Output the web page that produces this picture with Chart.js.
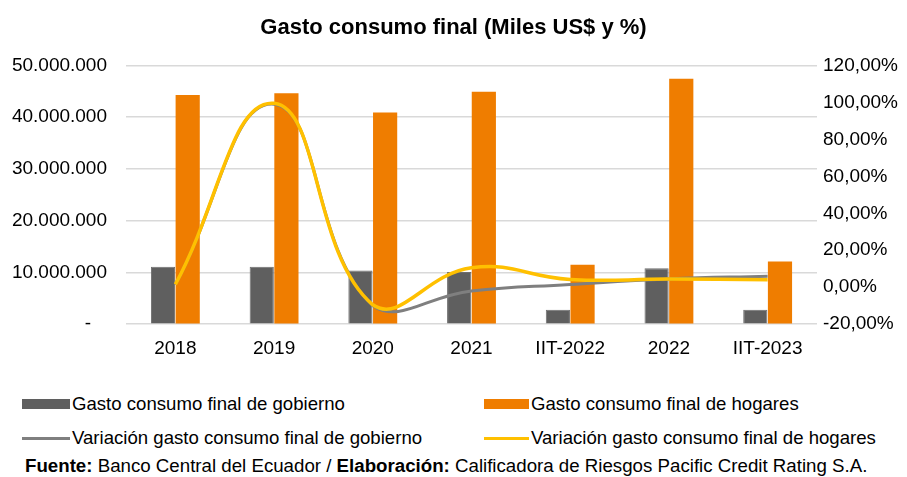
<!DOCTYPE html>
<html>
<head>
<meta charset="utf-8">
<script src="https://cdn.jsdelivr.net/npm/chart.js@4.4.1/dist/chart.umd.min.js"></script>
<style>
  body { margin: 0; background: #fff; font-family: "Liberation Sans", Arial, sans-serif; }
  #wrap { position: relative; width: 907px; height: 477px; overflow: hidden; }
  #chartBox { position: absolute; left: 0; top: 0; width: 907px; height: 367px; }
  .leg { position: absolute; font-size: 18.6px; color: #000; white-space: nowrap; line-height: 20px; }
  .sw { position: absolute; }
  #footer { position: absolute; left: 25px; top: 455px; font-size: 18.7px; line-height: 21px; color: #000; white-space: nowrap; }
</style>
</head>
<body>
<div id="wrap">
  <div id="chartBox"><canvas id="gastoChart"></canvas></div>
  <div id="legend"></div>
  <div id="footer"><b>Fuente:</b> Banco Central del Ecuador / <b>Elaboración:</b> Calificadora de Riesgos Pacific Credit Rating S.A.</div>
</div>
<script>
const categories = ['2018', '2019', '2020', '2021', 'IIT-2022', '2022', 'IIT-2023'];
const gobierno = [11090000, 11100000, 10390000, 10100000, 2800000, 10800000, 2800000];
const hogares = [44300000, 44600000, 40900000, 44900000, 11500000, 47400000, 12100000];
const varGobierno = [1.5, 99, -10, -2, 1.5, 4.5, 6];
const varHogares = [1.5, 99.5, -9.5, 10.5, 4.2, 4.4, 4];
const leftTicks = [0, 10000000, 20000000, 30000000, 40000000, 50000000];
const rightTicks = [-20, 0, 20, 40, 60, 80, 100, 120];

function miles(v) {
    if (v === 0) return '-   ';
    return String(v).replace(/\B(?=(\d{3})+(?!\d))/g, '.');
}

document.addEventListener('DOMContentLoaded', function() {
    const ctx = document.getElementById('gastoChart');
    const tickFont = { family: 'Liberation Sans', size: 19 };

    const chart = new Chart(ctx, {
        data: {
            labels: categories,
            datasets: [{
                type: 'bar',
                label: 'Gasto consumo final de gobierno',
                data: gobierno,
                backgroundColor: '#5f5f5f',
                borderColor: '#6e6e6e',
                borderWidth: 1,
                yAxisID: 'y',
                order: 3,
                categoryPercentage: 0.5,
                barPercentage: 0.98
            }, {
                type: 'bar',
                label: 'Gasto consumo final de hogares',
                data: hogares,
                backgroundColor: '#ef7d00',
                borderWidth: 0,
                yAxisID: 'y',
                order: 3,
                categoryPercentage: 0.5,
                barPercentage: 0.98
            }, {
                type: 'line',
                label: 'Variación gasto consumo final de gobierno',
                data: varGobierno,
                borderColor: '#7f7f7f',
                borderWidth: 3,
                pointRadius: 0,
                tension: 0.45,
                fill: false,
                yAxisID: 'y1',
                order: 1
            }, {
                type: 'line',
                label: 'Variación gasto consumo final de hogares',
                data: varHogares,
                borderColor: '#ffc000',
                borderWidth: 3.5,
                pointRadius: 0,
                tension: 0.45,
                fill: false,
                yAxisID: 'y1',
                order: 0
            }]
        },
        options: {
            responsive: true,
            maintainAspectRatio: false,
            animation: false,
            layout: { padding: { left: 0, right: 0, top: 0, bottom: 2 } },
            plugins: {
                legend: { display: false },
                tooltip: { enabled: false },
                title: {
                    display: true,
                    text: 'Gasto consumo final (Miles US$ y %)',
                    color: '#000',
                    font: { family: 'Liberation Sans', size: 22, weight: 'bold' },
                    padding: { top: 15, bottom: 24 }
                }
            },
            scales: {
                x: {
                    grid: { display: false },
                    border: { display: false },
                    ticks: { color: '#000', font: tickFont, padding: 5, maxRotation: 0 }
                },
                y: {
                    position: 'left',
                    min: 0,
                    max: 50000000,
                    afterBuildTicks: function(scale) {
                        scale.ticks = leftTicks.map(v => ({ value: v }));
                    },
                    afterFit: function(scale) { scale.width = 126; },
                    grid: { color: '#d9d9d9', lineWidth: 1.5, drawTicks: false },
                    border: { display: false },
                    ticks: { color: '#000', font: tickFont, padding: 19, callback: v => miles(v) }
                },
                y1: {
                    position: 'right',
                    min: -20,
                    max: 120,
                    afterBuildTicks: function(scale) {
                        scale.ticks = rightTicks.map(v => ({ value: v }));
                    },
                    afterFit: function(scale) { scale.width = 90; },
                    grid: { display: false, drawTicks: false },
                    border: { display: false },
                    ticks: { color: '#000', font: tickFont, padding: 6, callback: v => v.toFixed(2).replace('.', ',') + '%' }
                }
            }
        }
    });

    // legend in two columns, like the original sheet
    const legend = document.getElementById('legend');
    const pos = [
        { x: 22, y: 404, w: 48 },
        { x: 484, y: 404, w: 45 },
        { x: 22, y: 438, w: 48 },
        { x: 484, y: 438, w: 45 }
    ];
    chart.data.datasets.forEach((ds, i) => {
        const p = pos[i];
        const sw = document.createElement('div');
        sw.className = 'sw';
        const isBar = ds.type === 'bar';
        const h = isBar ? 10 : 3;
        sw.style.left = p.x + 'px';
        sw.style.top = (p.y - h / 2) + 'px';
        sw.style.width = p.w + 'px';
        sw.style.height = h + 'px';
        sw.style.background = isBar ? ds.backgroundColor : ds.borderColor;
        legend.appendChild(sw);

        const txt = document.createElement('div');
        txt.className = 'leg';
        txt.textContent = ds.label;
        txt.style.left = (p.x + p.w + 2) + 'px';
        txt.style.top = (p.y - 10) + 'px';
        legend.appendChild(txt);
    });
});
</script>
</body>
</html>
